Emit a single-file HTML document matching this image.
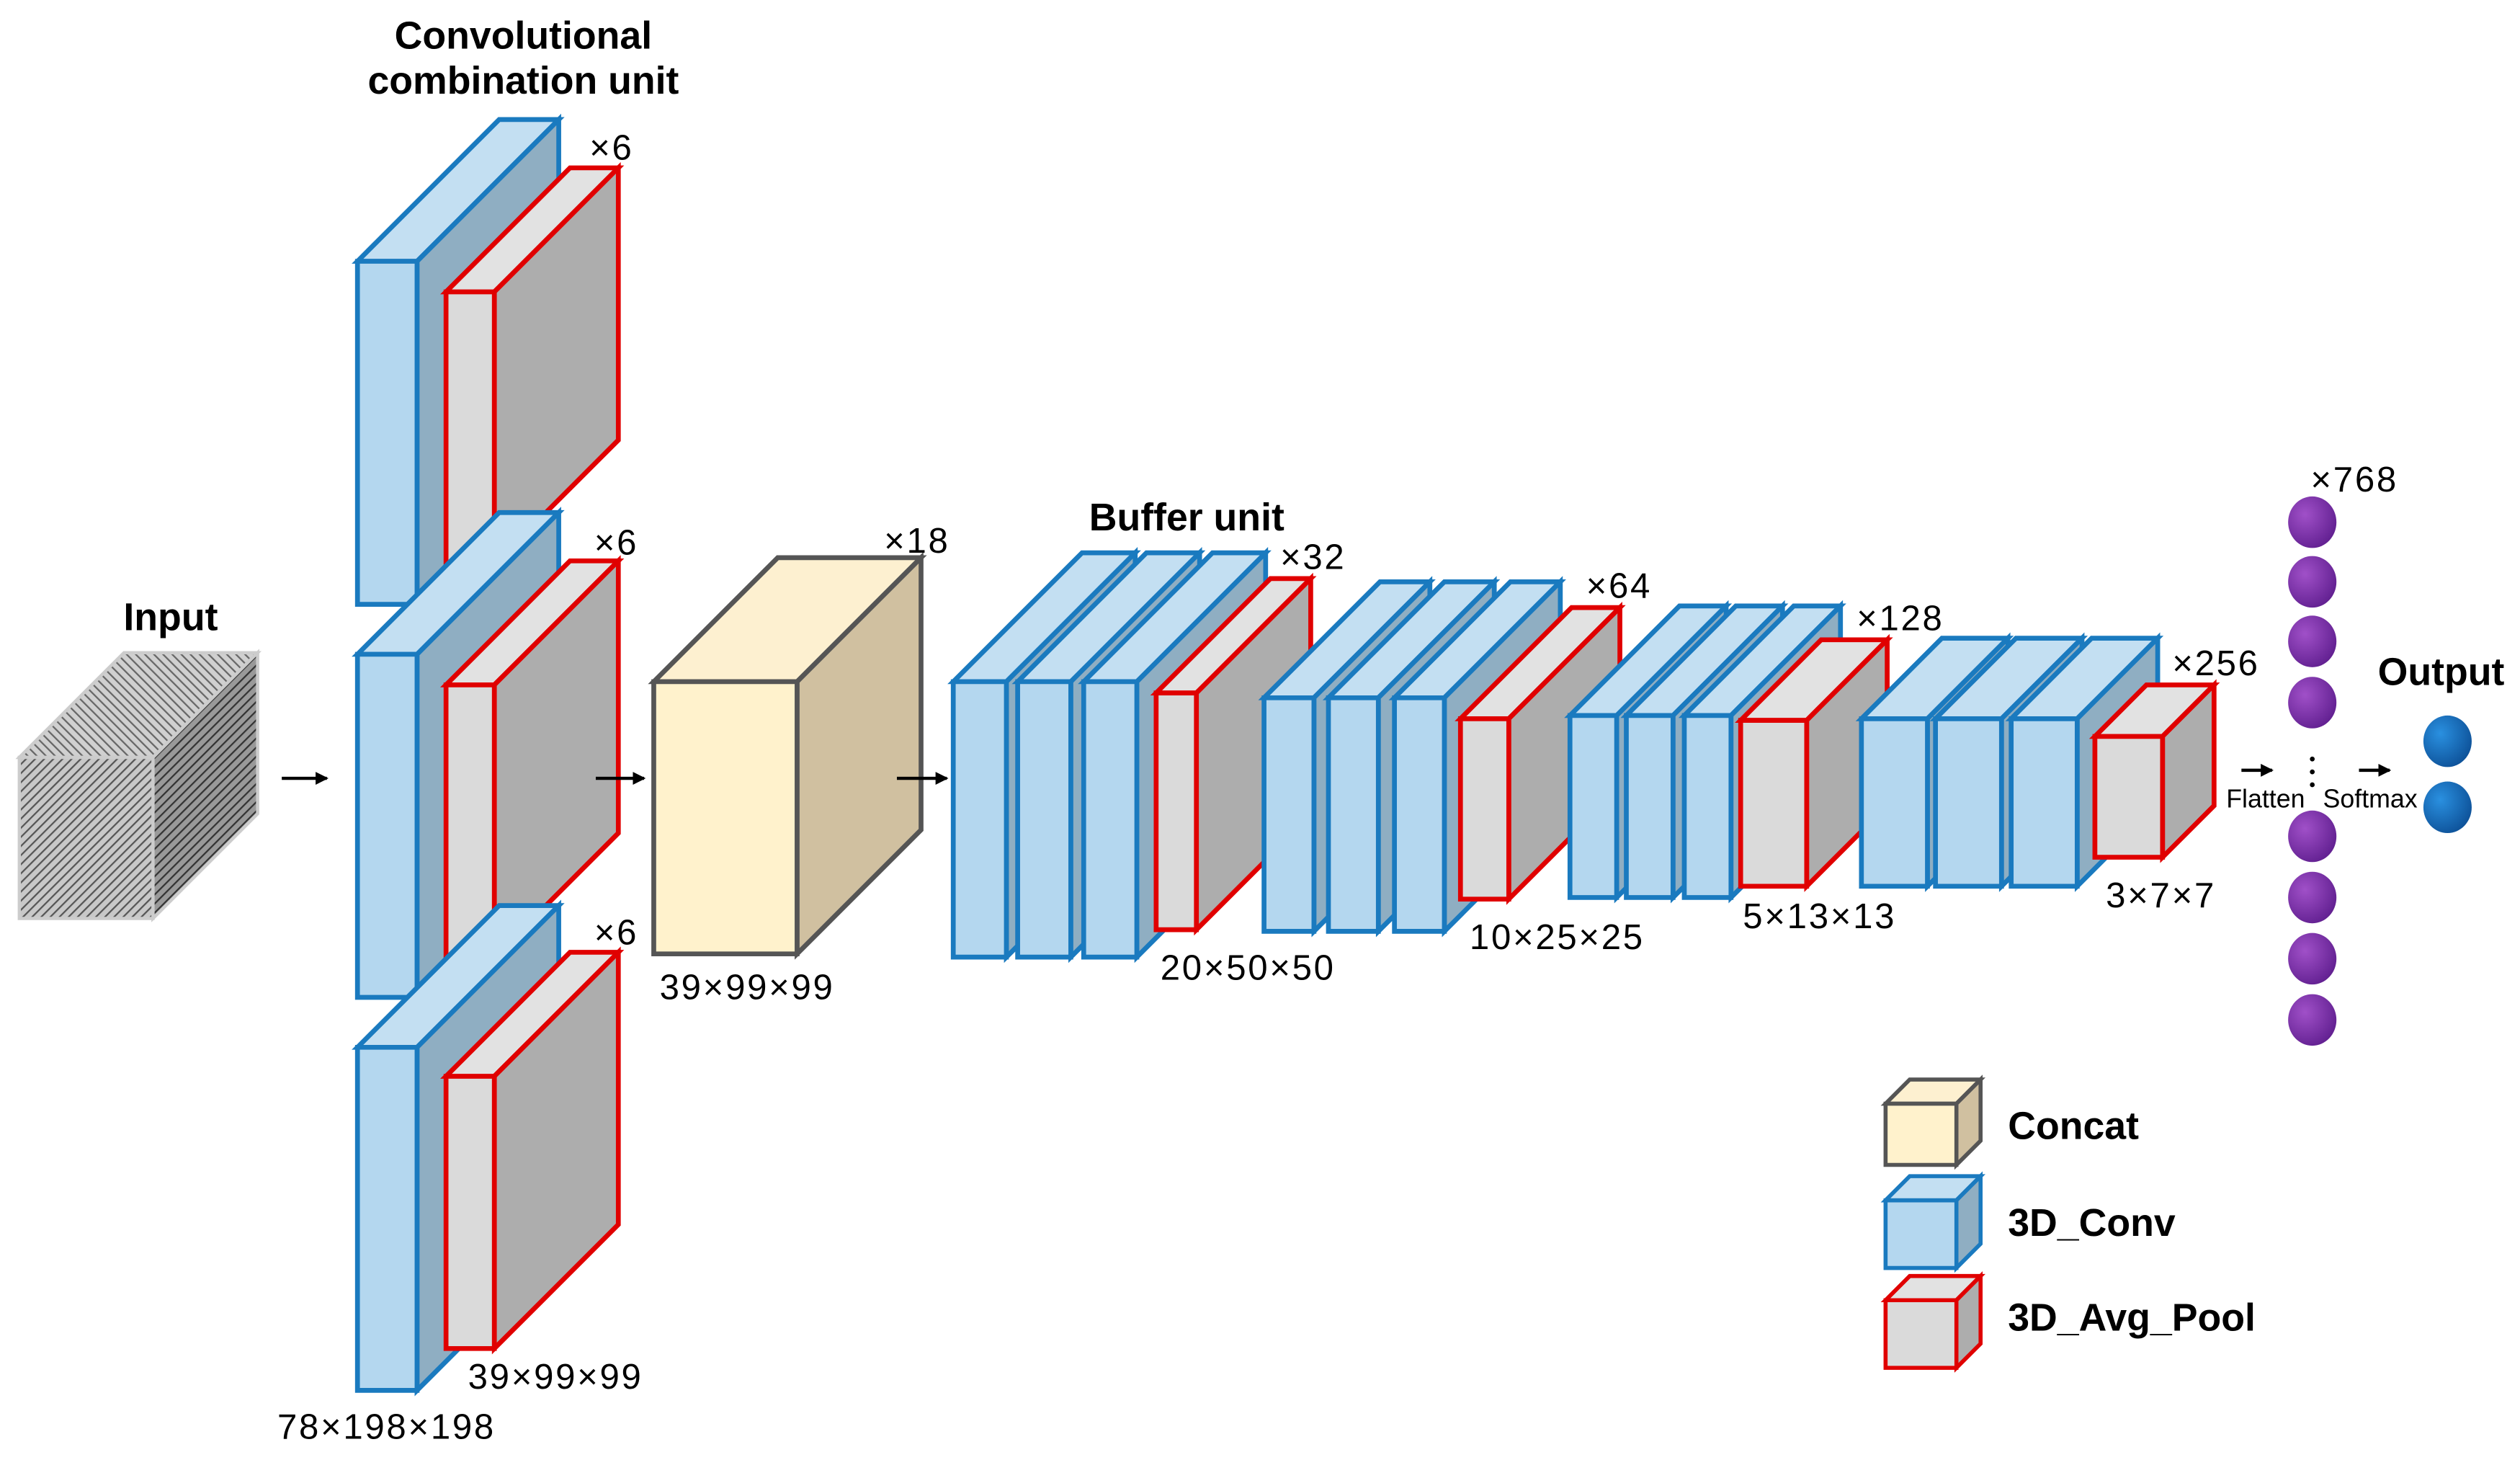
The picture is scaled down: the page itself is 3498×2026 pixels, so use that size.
<!DOCTYPE html>
<html><head><meta charset="utf-8"><style>
html,body{margin:0;padding:0;background:#fff;}
svg{display:block;}
text{font-family:"Liberation Sans",sans-serif;fill:#000;}
.b{font-weight:bold;font-size:24px;}
.l{font-size:22px;letter-spacing:1.2px;}
.s{font-size:16px;}
</style></head><body>
<svg id="s" width="3498" height="2026" viewBox="0 0 1565 906" xmlns="http://www.w3.org/2000/svg">
<defs>
<pattern id="h1" width="4" height="4" patternUnits="userSpaceOnUse" patternTransform="rotate(45)"><rect width="4" height="4" fill="#c8c8c8"/><line x1="0" y1="0" x2="0" y2="4" stroke="#555" stroke-width="2"/></pattern>
<pattern id="h2" width="4" height="4" patternUnits="userSpaceOnUse" patternTransform="rotate(-45)"><rect width="4" height="4" fill="#d0d0d0"/><line x1="0" y1="0" x2="0" y2="4" stroke="#666" stroke-width="2"/></pattern>
<pattern id="h3" width="4" height="4" patternUnits="userSpaceOnUse" patternTransform="rotate(45)"><rect width="4" height="4" fill="#999"/><line x1="0" y1="0" x2="0" y2="4" stroke="#333" stroke-width="2"/></pattern>
<radialGradient id="pg" cx="0.35" cy="0.35" r="0.8"><stop offset="0" stop-color="#a050c8"/><stop offset="1" stop-color="#5a1a8a"/></radialGradient>
<radialGradient id="bg" cx="0.35" cy="0.35" r="0.8"><stop offset="0" stop-color="#2a90e0"/><stop offset="1" stop-color="#0a4a90"/></radialGradient>
<marker id="ar" markerWidth="8" markerHeight="8" refX="7" refY="4" orient="auto" markerUnits="userSpaceOnUse"><path d="M0,0 L8,4 L0,8 z" fill="#000"/></marker>
</defs>
<g id="shapes"></g>
<g stroke="#000" stroke-width="2" marker-end="url(#ar)">
<line x1="175" y1="483" x2="203" y2="483"/>
<line x1="370" y1="483" x2="400" y2="483"/>
<line x1="557" y1="483" x2="588" y2="483"/>
<line x1="1392" y1="478" x2="1411" y2="478"/>
<line x1="1465" y1="478" x2="1484" y2="478"/>
</g>
<g fill="#000"><circle cx="1436" cy="471" r="1.5"/><circle cx="1436" cy="479" r="1.5"/><circle cx="1436" cy="487" r="1.5"/></g>
<g fill="url(#pg)">
<ellipse cx="1436" cy="324" rx="15" ry="16"/><ellipse cx="1436" cy="361" rx="15" ry="16"/><ellipse cx="1436" cy="398" rx="15" ry="16"/><ellipse cx="1436" cy="436" rx="15" ry="16"/>
<ellipse cx="1436" cy="519" rx="15" ry="16"/><ellipse cx="1436" cy="557" rx="15" ry="16"/><ellipse cx="1436" cy="595" rx="15" ry="16"/><ellipse cx="1436" cy="633" rx="15" ry="16"/>
</g>
<g fill="url(#bg)"><ellipse cx="1520" cy="460" rx="15" ry="16"/><ellipse cx="1520" cy="501" rx="15" ry="16"/></g>
<text class="b" x="325" y="30" text-anchor="middle">Convolutional</text>
<text class="b" x="325" y="58" text-anchor="middle">combination unit</text>
<text class="b" x="106" y="391" text-anchor="middle">Input</text>
<text class="b" x="737" y="329" text-anchor="middle">Buffer unit</text>
<text class="b" x="1516" y="425" text-anchor="middle">Output</text>
<g class="l">
<text x="366" y="99">×6</text><text x="369" y="344">×6</text><text x="369" y="586">×6</text>
<text x="345" y="862" text-anchor="middle">39×99×99</text>
<text x="240" y="893" text-anchor="middle">78×198×198</text>
<text x="549" y="343">×18</text>
<text x="464" y="620" text-anchor="middle">39×99×99</text>
<text x="795" y="353">×32</text>
<text x="775" y="608" text-anchor="middle">20×50×50</text>
<text x="985" y="371">×64</text>
<text x="967" y="589" text-anchor="middle">10×25×25</text>
<text x="1153" y="391">×128</text>
<text x="1130" y="576" text-anchor="middle">5×13×13</text>
<text x="1349" y="419">×256</text>
<text x="1342" y="563" text-anchor="middle">3×7×7</text>
<text x="1435" y="305">×768</text>
</g>
<text class="s" x="1407" y="501" text-anchor="middle">Flatten</text>
<text class="s" x="1472" y="501" text-anchor="middle">Softmax</text>
<text class="b" x="1247" y="707">Concat</text>
<text class="b" x="1247" y="767">3D_Conv</text>
<text class="b" x="1247" y="826">3D_Avg_Pool</text>
</svg>
<script>
var g=document.getElementById('shapes'),NS='http://www.w3.org/2000/svg';
function P(pts,fill,st,sw){var p=document.createElementNS(NS,'polygon');p.setAttribute('points',pts.map(function(a){return a.join(',')}).join(' '));p.setAttribute('fill',fill);p.setAttribute('stroke',st);p.setAttribute('stroke-width',sw);p.setAttribute('stroke-linejoin','miter');g.appendChild(p);}
function cube(x,y,w,h,d,c,st,sw){
P([[x,y],[x+d,y-d],[x+w+d,y-d],[x+w,y]],c[1],st,sw);
P([[x+w,y],[x+w+d,y-d],[x+w+d,y+h-d],[x+w,y+h]],c[2],st,sw);
P([[x,y],[x+w,y],[x+w,y+h],[x,y+h]],c[0],st,sw);}
var B=['#b4d7ef','#c3dff2','#8faec2'],BS='#1a7abf',R=['#dadada','#e2e2e2','#adadad'],RS='#e00000';
cube(12,470,83,100,65,['url(#h1)','url(#h2)','url(#h3)'],'#ccc',2);
[[162,181],[406,425],[650,668]].forEach(function(a){cube(222,a[0],37,213,88,B,BS,3);cube(277,a[1],30,169,77,R,RS,3);});
cube(406,423,89,169,77,['#fff2cc','#fdf0d0','#d0c0a0'],'#555',3);
[592,632,673].forEach(function(x){cube(x,423,33,171,80,B,BS,3);});
cube(718,430,25,147,71,R,RS,3);
[785,825,866].forEach(function(x){cube(x,433,31,145,72,B,BS,3);});
cube(907,446,30,112,69,R,RS,3);
[975,1010,1046].forEach(function(x){cube(x,444,29,113,68,B,BS,3);});
cube(1081,447,41,103,50,R,RS,3);
[1156,1202,1249].forEach(function(x){cube(x,446,41,104,50,B,BS,3);});
cube(1301,457,42,75,32,R,RS,3);
cube(1171,685,44,38,15,['#fff2cc','#fdf0d0','#d0c0a0'],'#555',2.5);
cube(1171,745,44,42,15,B,BS,2.5);
cube(1171,807,44,42,15,R,RS,2.5);
</script>
</body></html>
